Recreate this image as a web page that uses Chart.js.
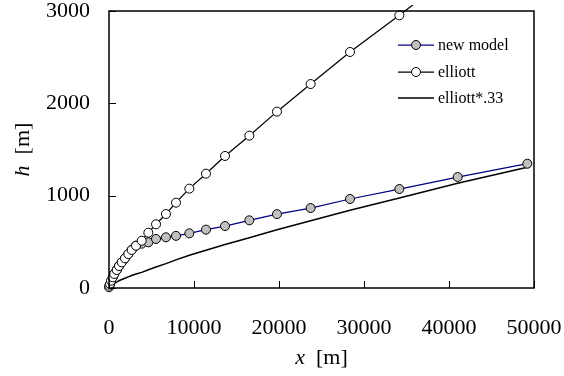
<!DOCTYPE html>
<html><head><meta charset="utf-8">
<script src="https://cdn.jsdelivr.net/npm/chart.js@4/dist/chart.umd.min.js"></script>
<style>html,body{margin:0;padding:0;background:#fff;}#wrap{width:564px;height:376px;}</style>
</head><body><div id="wrap"><canvas id="c" width="564" height="376"></canvas></div>
<script>
// distance downwind x [m]
const xValues = [0, 40, 118, 235, 435, 624, 906, 1176, 1494, 1882, 2270, 2670, 3176, 3847, 4630, 5530, 6700, 7880, 9450, 11410, 13650, 16510, 19760, 23725, 28353, 34157, 41020, 49216];
// heights h [m]
const newModelH = [8, 25, 43, 79, 116, 152, 195, 238, 278, 322, 368, 412, 458, 480, 495, 531, 549, 565, 592, 632, 671, 733, 800, 866, 964, 1072, 1202, 1346];
const elliottH = [8, 25, 43, 79, 116, 152, 195, 238, 278, 322, 368, 412, 458, 512, 599, 690, 801, 924, 1076, 1238, 1430, 1650, 1910, 2209, 2556, 2953, 3440, 3960];
const elliott33H = [3, 8, 14, 26, 38, 50, 64, 79, 92, 106, 121, 136, 151, 169, 198, 228, 264, 305, 355, 409, 472, 545, 630, 729, 843, 974, 1135, 1307];
const seriesNames = ['new model', 'elliott', 'elliott*.33'];
const xTicks = [0, 10000, 20000, 30000, 40000, 50000];
const yTicks = [0, 1000, 2000, 3000];

const toPts = (hs) => xValues.map((x, i) => ({x: x, y: hs[i]}));
const SERIF = '"Liberation Serif", "Times New Roman", serif';

function drawMixed(ctx, parts, cx, cy) {
  let total = 0;
  parts.forEach(p => { ctx.font = p.font; total += ctx.measureText(p.text).width; });
  let xx = cx - total / 2;
  ctx.textAlign = 'left';
  ctx.textBaseline = 'middle';
  parts.forEach(p => { ctx.font = p.font; ctx.fillText(p.text, xx, cy); xx += ctx.measureText(p.text).width; });
}

function zeroPad(s) { s.paddingTop = 0; s.paddingBottom = 0; s.paddingLeft = 0; s.paddingRight = 0; }

const framePlugin = {
  id: 'frame',
  afterDraw(chart) {
    const {ctx, chartArea: a, scales} = chart;
    const xs = scales.x, ys = scales.y;
    ctx.save();
    ctx.strokeStyle = '#000';
    ctx.lineWidth = 1.5;
    ctx.strokeRect(a.left, a.top, a.right - a.left, a.bottom - a.top);
    ctx.beginPath();
    xTicks.forEach(v => { const px = Math.round(xs.getPixelForValue(v)) + 0.5; ctx.moveTo(px, a.bottom); ctx.lineTo(px, a.bottom - 7); });
    yTicks.forEach(v => { const py = Math.round(ys.getPixelForValue(v)) + 0.5; ctx.moveTo(a.left, py); ctx.lineTo(a.left + 7, py); });
    ctx.lineWidth = 1;
    ctx.stroke();

    // axis titles
    ctx.fillStyle = '#000';
    drawMixed(ctx, [{text: 'x', font: 'italic 22px ' + SERIF}, {text: '  [m]', font: '22px ' + SERIF}], (a.left + a.right) / 2, 358);
    ctx.save();
    ctx.translate(23, (a.top + a.bottom) / 2);
    ctx.rotate(-Math.PI / 2);
    drawMixed(ctx, [{text: 'h', font: 'italic 22px ' + SERIF}, {text: '  [m]', font: '22px ' + SERIF}], 0, 0);
    ctx.restore();

    // legend
    const ds = chart.data.datasets;
    const rows = [45, 72, 98];
    ds.forEach((d, i) => {
      const y = rows[i];
      ctx.beginPath();
      ctx.strokeStyle = d.borderColor;
      ctx.lineWidth = d.borderWidth;
      ctx.moveTo(398, y); ctx.lineTo(434, y);
      ctx.stroke();
      if (d.pointRadius > 0) {
        ctx.beginPath();
        ctx.arc(416, y, d.pointRadius, 0, Math.PI * 2);
        ctx.fillStyle = d.pointBackgroundColor;
        ctx.fill();
        ctx.lineWidth = d.pointBorderWidth;
        ctx.strokeStyle = d.pointBorderColor;
        ctx.stroke();
      }
      ctx.fillStyle = '#000';
      ctx.font = '16px ' + SERIF;
      ctx.textAlign = 'left';
      ctx.textBaseline = 'middle';
      ctx.fillText(seriesNames[i], 438, y + 1);
    });
    ctx.restore();
  }
};

new Chart(document.getElementById('c'), {
  type: 'scatter',
  data: {
    datasets: [
      {label: seriesNames[0], data: toPts(newModelH), showLine: true, borderColor: '#000080', borderWidth: 1.25,
       pointRadius: 4.5, pointBackgroundColor: '#C0C0C0', pointBorderColor: '#000', pointBorderWidth: 1, order: 1},
      {label: seriesNames[1], data: toPts(elliottH), showLine: true, borderColor: '#000', borderWidth: 1.25,
       pointRadius: 4.5, pointBackgroundColor: '#fff', pointBorderColor: '#000', pointBorderWidth: 1, order: 0,
       clip: {left: 5, top: 6, right: 5, bottom: 5}},
      {label: seriesNames[2], data: toPts(elliott33H), showLine: true, borderColor: '#000', borderWidth: 1.5,
       pointRadius: 0, pointBackgroundColor: '#000', pointBorderColor: '#000', pointBorderWidth: 0, order: 2}
    ]
  },
  options: {
    responsive: false,
    devicePixelRatio: 1,
    animation: false,
    layout: {padding: {left: 0, top: 11, right: 30, bottom: 0}},
    plugins: {legend: {display: false}, tooltip: {enabled: false}},
    elements: {line: {tension: 0}},
    scales: {
      x: {
        type: 'linear', min: 0, max: 50000,
        afterBuildTicks: (s) => { s.ticks = xTicks.map(v => ({value: v})); },
        afterFit: (s) => { s.height = 88; zeroPad(s); },
        grid: {display: false, drawTicks: false},
        border: {display: false},
        ticks: {padding: 29, color: '#000', font: {family: SERIF, size: 22, lineHeight: 1}, maxRotation: 0, callback: (v) => String(v)}
      },
      y: {
        type: 'linear', min: 0, max: 3000,
        afterBuildTicks: (s) => { s.ticks = yTicks.map(v => ({value: v})); },
        afterFit: (s) => { s.width = 109; zeroPad(s); },
        grid: {display: false, drawTicks: false},
        border: {display: false},
        ticks: {padding: 19, color: '#000', font: {family: SERIF, size: 22, lineHeight: 1}, callback: (v) => String(v)}
      }
    }
  },
  plugins: [framePlugin]
});
</script>
</body></html>
